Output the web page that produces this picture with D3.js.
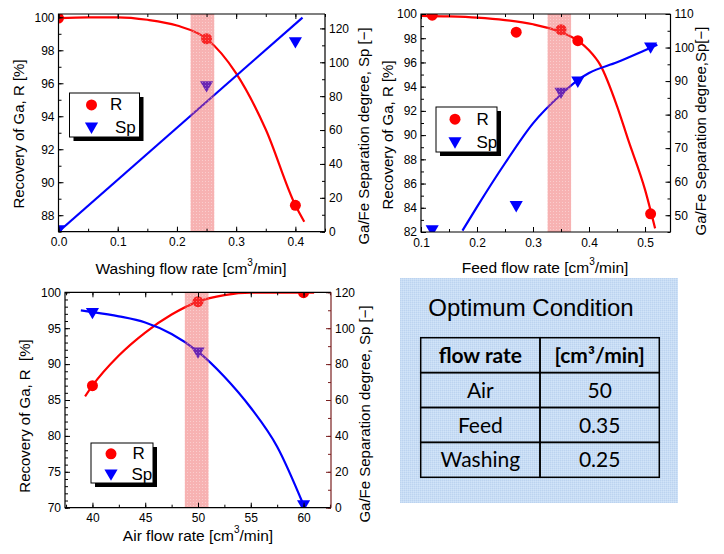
<!DOCTYPE html>
<html><head><meta charset="utf-8">
<script src="https://cdn.jsdelivr.net/npm/d3@7"></script>
<style>body{margin:0;background:#fff} svg{display:block}</style>
</head><body><svg id="c" width="724" height="554"></svg>
<script>
// ---------- DATA ----------
// Washing chart
const washX = [0, 0.25, 0.40];
const washR = [99.95, 98.7, 88.6];
const washSp = [1, 86, 112];
const washRFitX = [0, 0.05, 0.10, 0.15, 0.20, 0.25, 0.30, 0.35, 0.40, 0.415];
const washRFitY = [99.95, 100.0, 100.0, 99.85, 99.5, 98.7, 96.6, 93.2, 88.6, 87.6];
const washSpFitX = [0, 0.412];
const washSpFitY = [0, 126.4];
const washBand = [0.223, 0.263];
const washXTicks = [0.0, 0.1, 0.2, 0.3, 0.4];
const washRTicks = [88, 90, 92, 94, 96, 98, 100];
const washSpTicks = [0, 20, 40, 60, 80, 100, 120];

// Feed chart
const feedX = [0.12, 0.27, 0.35, 0.38, 0.51];
const feedR = [99.9, 98.5, 98.7, 97.8, 83.5];
const feedSp = [45.6, 52.8, 86.6, 89.9, 100.1];
const feedRFitX = [0.10, 0.15, 0.20, 0.25, 0.30, 0.35, 0.38, 0.40, 0.42, 0.45, 0.47, 0.50, 0.518];
const feedRFitY = [99.85, 99.8, 99.7, 99.5, 99.15, 98.5, 97.8, 97.0, 95.8, 92.4, 89.6, 85.5, 82.3];
const feedSpFitX = [0.174, 0.20, 0.25, 0.30, 0.35, 0.38, 0.40, 0.45, 0.50, 0.522];
const feedSpFitY = [45.4, 52.5, 65.5, 77.4, 86.0, 90.3, 92.4, 95.6, 99.2, 100.8];
const feedBand = [0.326, 0.368];
const feedXTicks = [0.1, 0.2, 0.3, 0.4, 0.5];
const feedRTicks = [82, 84, 86, 88, 90, 92, 94, 96, 98, 100];
const feedSpTicks = [50, 60, 70, 80, 90, 100, 110];

// Air chart
const airX = [40, 50, 60];
const airR = [87.0, 98.7, 99.95];
const airSp = [108.6, 86.6, 1.5];
const airRFitX = [39.3, 40, 42.5, 45, 47.5, 50, 52.5, 55, 60, 61];
const airRFitY = [85.5, 87.0, 91.2, 94.4, 96.9, 98.7, 99.6, 99.95, 99.95, 99.95];
const airSpFitX = [38.9, 40, 42.5, 45, 47.5, 50, 52.5, 55, 57.5, 60];
const airSpFitY = [109.9, 109.0, 106.6, 103.2, 96.8, 87.0, 73.0, 55.7, 34.0, 1.5];
const airBand = [48.75, 51.0];
const airXTicks = [40, 45, 50, 55, 60];
const airRTicks = [70, 75, 80, 85, 90, 95, 100];
const airSpTicks = [0, 20, 40, 60, 80, 100, 120];

// Table
const tableTitle = "Optimum Condition";
const tableHeader = ["flow rate", "[cm³/min]"];
const tableRows = [["Air", "50"], ["Feed", "0.35"], ["Washing", "0.25"]];

// ---------- DRAW ----------
const svg = d3.select("#c");
const defs = svg.append("defs");
const FONT = "'Liberation Sans', Arial, sans-serif";

// band pattern
const bp = defs.append("pattern").attr("id", "bandPat").attr("patternUnits", "userSpaceOnUse")
  .attr("width", 3).attr("height", 3);
bp.append("rect").attr("width", 3).attr("height", 3).attr("fill", "rgba(238,85,85,0.45)");
bp.append("rect").attr("x", 1).attr("y", 1).attr("width", 1).attr("height", 1).attr("fill", "rgba(255,255,255,0.35)");

// table pattern
const tp = defs.append("pattern").attr("id", "tabPat").attr("patternUnits", "userSpaceOnUse")
  .attr("width", 2).attr("height", 2);
tp.append("rect").attr("width", 2).attr("height", 2).attr("fill", "#c8ddf5");
tp.append("rect").attr("width", 1).attr("height", 1).attr("fill", "#bcd3ef");
tp.append("rect").attr("x", 1).attr("y", 1).attr("width", 1).attr("height", 1).attr("fill", "#d2e4f8");

function drawChart(id, o) {
  const g = svg.append("g");
  const x = d3.scaleLinear().domain(o.xDomain).range([o.left, o.right]);
  const yL = d3.scaleLinear().domain(o.yLDomain).range([o.bottom, o.top]);
  const yR = d3.scaleLinear().domain(o.yRDomain).range([o.bottom, o.top]);

  defs.append("clipPath").attr("id", "clip" + id).append("rect")
    .attr("x", o.left).attr("y", o.top).attr("width", o.right - o.left).attr("height", o.bottom - o.top);

  const plot = g.append("g").attr("clip-path", `url(#clip${id})`);

  const lineR = d3.line().x(d => x(d[0])).y(d => yL(d[1])).curve(d3.curveMonotoneX);
  const lineS = d3.line().x(d => x(d[0])).y(d => yR(d[1])).curve(d3.curveMonotoneX);

  plot.append("path").datum(d3.zip(o.rFitX, o.rFitY)).attr("d", lineR)
    .attr("fill", "none").attr("stroke", "#ff0000").attr("stroke-width", 2.2);
  plot.append("path").datum(d3.zip(o.spFitX, o.spFitY)).attr("d", lineS)
    .attr("fill", "none").attr("stroke", "#0000ff").attr("stroke-width", 2.2);

  const tri = d3.symbol().type(d3.symbolTriangle).size(75);
  plot.selectAll(".sp").data(d3.zip(o.ptsX, o.Sp)).join("path")
    .attr("d", tri).attr("fill", "#0000ff")
    .attr("transform", d => `translate(${x(d[0])},${yR(d[1]) - 1}) rotate(180)`);
  plot.selectAll(".r").data(d3.zip(o.ptsX, o.R)).join("circle")
    .attr("cx", d => x(d[0])).attr("cy", d => yL(d[1])).attr("r", 5.5).attr("fill", "#ff0000");

  // band on top
  plot.append("rect").attr("x", x(o.band[0])).attr("width", x(o.band[1]) - x(o.band[0]))
    .attr("y", o.top).attr("height", o.bottom - o.top).attr("fill", "url(#bandPat)");

  // axes
  const style = sel => {
    sel.select(".domain").remove();
    sel.selectAll("text").attr("font-family", FONT).attr("font-size", 12).attr("fill", "#000");
  };
  g.append("g").attr("transform", `translate(0,${o.bottom})`)
    .call(d3.axisBottom(x).tickValues(o.xTicks).tickFormat(o.xFmt).tickSizeInner(-5).tickSizeOuter(0).tickPadding(6)).call(style);
  g.append("g").attr("transform", `translate(0,${o.bottom})`)
    .call(d3.axisBottom(x).tickValues(o.xMinorVals).tickFormat("").tickSizeInner(-3).tickSizeOuter(0)).call(style);
  g.append("g").attr("transform", `translate(0,${o.top})`)
    .call(d3.axisTop(x).tickValues(o.xTicks).tickFormat("").tickSizeInner(-5).tickSizeOuter(0)).call(style);
  g.append("g").attr("transform", `translate(0,${o.top})`)
    .call(d3.axisTop(x).tickValues(o.xMinorVals).tickFormat("").tickSizeInner(-3).tickSizeOuter(0)).call(style);

  g.append("g").attr("transform", `translate(${o.left},0)`)
    .call(d3.axisLeft(yL).tickValues(o.yLTicks).tickFormat(d3.format("d")).tickSizeInner(-5).tickSizeOuter(0).tickPadding(4)).call(style);
  g.append("g").attr("transform", `translate(${o.left},0)`)
    .call(d3.axisLeft(yL).tickValues(o.yLMinorVals).tickFormat("").tickSizeInner(-3).tickSizeOuter(0)).call(style);

  const rc = o.rightColor;
  const ra = g.append("g").attr("transform", `translate(${o.right},0)`)
    .call(d3.axisRight(yR).tickValues(o.yRTicks).tickFormat(d3.format("d")).tickSizeInner(-5).tickSizeOuter(0).tickPadding(4)).call(style);
  const rm = g.append("g").attr("transform", `translate(${o.right},0)`)
    .call(d3.axisRight(yR).tickValues(o.yRMinorVals).tickFormat("").tickSizeInner(-3).tickSizeOuter(0)).call(style);
  ra.selectAll("line").attr("stroke", rc);
  rm.selectAll("line").attr("stroke", rc);
  g.selectAll(".tick line").attr("stroke-width", 1);

  // frame
  g.append("path").attr("d", `M${o.right},${o.top}H${o.left}V${o.bottom}H${o.right}`)
    .attr("fill", "none").attr("stroke", "#000").attr("stroke-width", 1.2);
  g.append("line").attr("x1", o.right).attr("x2", o.right).attr("y1", o.top).attr("y2", o.bottom)
    .attr("stroke", rc).attr("stroke-width", 1.2);

  // legend
  const L = o.legend;
  g.append("rect").attr("x", L.x + 4).attr("y", L.y + 4).attr("width", L.w).attr("height", L.h).attr("fill", "#000");
  g.append("rect").attr("x", L.x).attr("y", L.y).attr("width", L.w).attr("height", L.h)
    .attr("fill", "#fff").attr("stroke", "#000").attr("stroke-width", 1);
  g.append("circle").attr("cx", L.x + L.mx).attr("cy", L.y + L.h * 0.27).attr("r", 5.5).attr("fill", "#ff0000");
  g.append("path").attr("d", tri).attr("fill", "#0000ff")
    .attr("transform", `translate(${L.x + L.mx},${L.y + L.h * 0.78 - 1}) rotate(180)`);
  g.append("text").attr("x", L.x + L.tx).attr("y", L.y + L.h * 0.27).attr("dominant-baseline", "central")
    .attr("font-family", FONT).attr("font-size", 17).text("R");
  g.append("text").attr("x", L.x + L.tx2).attr("y", L.y + L.h * 0.78).attr("dominant-baseline", "central")
    .attr("font-family", FONT).attr("font-size", 17).text("Sp");

  // axis titles
  const xl = g.append("text").attr("x", o.xLabelPos[0]).attr("y", o.xLabelPos[1])
    .attr("text-anchor", "middle").attr("dominant-baseline", "central")
    .attr("font-family", FONT).attr("font-size", 15.5);
  xl.append("tspan").text(o.xLabel + " [cm");
  xl.append("tspan").attr("dy", -6).attr("font-size", 10).text("3");
  xl.append("tspan").attr("dy", 6).text("/min]");

  g.append("text").attr("transform", `translate(${o.yLLabelPos[0]},${o.yLLabelPos[1]}) rotate(-90)`)
    .attr("text-anchor", "middle").attr("dominant-baseline", "central")
    .attr("font-family", FONT).attr("font-size", 15).attr("xml:space", "preserve").text(o.yLLabel);
  g.append("text").attr("transform", `translate(${o.yRLabelPos[0]},${o.yRLabelPos[1]}) rotate(-90)`)
    .attr("text-anchor", "middle").attr("dominant-baseline", "central")
    .attr("font-family", FONT).attr("font-size", 15).attr("xml:space", "preserve").text(o.yRLabel);
}

const rng = (a, b, s) => d3.range(Math.round(a / s), Math.round(b / s) + 1).map(k => +(k * s).toFixed(6));

drawChart("wash", {
  left: 58.5, right: 325, top: 14, bottom: 231.7,
  xDomain: [0, 0.45], yLDomain: [87, 100.2], yRDomain: [0, 128.5],
  xTicks: washXTicks, xMinorVals: rng(0, 0.45, 0.05), xFmt: d3.format(".1f"),
  yLTicks: washRTicks, yLMinorVals: rng(87, 100, 1),
  yRTicks: washSpTicks, yRMinorVals: rng(0, 120, 10),
  ptsX: washX, R: washR, Sp: washSp,
  rFitX: washRFitX, rFitY: washRFitY, spFitX: washSpFitX, spFitY: washSpFitY,
  band: washBand, rightColor: "#000",
  legend: { x: 69.5, y: 93, w: 70, h: 44, mx: 22, tx: 40.5, tx2: 45.5 },
  xLabel: "Washing flow rate", xLabelPos: [191, 268],
  yLLabel: "Recovery of Ga, R [%]", yLLabelPos: [18, 134],
  yRLabel: "Ga/Fe Separation degree, Sp [−]", yRLabelPos: [363, 136]
});

drawChart("feed", {
  left: 421, right: 670.5, top: 14, bottom: 232,
  xDomain: [0.1, 0.5455], yLDomain: [82, 100], yRDomain: [45, 110],
  xTicks: feedXTicks, xMinorVals: rng(0.1, 0.5, 0.05), xFmt: d3.format(".1f"),
  yLTicks: feedRTicks, yLMinorVals: rng(82, 100, 1),
  yRTicks: feedSpTicks, yRMinorVals: rng(45, 110, 5),
  ptsX: feedX, R: feedR, Sp: feedSp,
  rFitX: feedRFitX, rFitY: feedRFitY, spFitX: feedSpFitX, spFitY: feedSpFitY,
  band: feedBand, rightColor: "#000",
  legend: { x: 436, y: 107, w: 61, h: 45, mx: 19, tx: 40.5, tx2: 40.5 },
  xLabel: "Feed flow rate", xLabelPos: [545, 267],
  yLLabel: "Recovery of Ga, R [%]", yLLabelPos: [387, 135],
  yRLabel: "Ga/Fe Separation degree,Sp[−]", yRLabelPos: [700, 131]
});

drawChart("air", {
  left: 65, right: 331, top: 292.3, bottom: 507.7,
  xDomain: [37.4, 62.6], yLDomain: [70, 100], yRDomain: [0, 120],
  xTicks: airXTicks, xMinorVals: rng(37.5, 62.5, 2.5), xFmt: d3.format("d"),
  yLTicks: airRTicks, yLMinorVals: rng(70, 100, 1),
  yRTicks: airSpTicks, yRMinorVals: rng(0, 120, 10),
  ptsX: airX, R: airR, Sp: airSp,
  rFitX: airRFitX, rFitY: airRFitY, spFitX: airSpFitX, spFitY: airSpFitY,
  band: airBand, rightColor: "#7a1f1f",
  legend: { x: 91, y: 443, w: 62, h: 40, mx: 20, tx: 41.5, tx2: 40.5 },
  xLabel: "Air flow rate", xLabelPos: [198, 535],
  yLLabel: "Recovery of Ga, R  [%]", yLLabelPos: [24, 416],
  yRLabel: "Ga/Fe Separation degree, Sp [−]", yRLabelPos: [364, 414]
});

// ---------- TABLE PANEL ----------
const TF = "Lato, 'Open Sans', sans-serif";
const tg = svg.append("g");
tg.append("rect").attr("x", 400).attr("y", 278).attr("width", 278).attr("height", 225).attr("fill", "url(#tabPat)");
tg.append("text").attr("x", 531).attr("y", 315.5).attr("text-anchor", "middle")
  .attr("font-family", FONT).attr("font-size", 24).text(tableTitle);

const colX = d3.scaleBand().domain([0, 1]).range([420.7, 659.3]).paddingInner(0);
const rowY = d3.scaleBand().domain(d3.range(tableRows.length + 1)).range([337.7, 477.3]);
const allRows = [tableHeader].concat(tableRows);
allRows.forEach((row, ri) => {
  row.forEach((cell, ci) => {
    tg.append("rect").attr("x", colX(ci)).attr("y", rowY(ri)).attr("width", colX.bandwidth()).attr("height", rowY.bandwidth())
      .attr("fill", "none").attr("stroke", "#000").attr("stroke-width", 1.5);
    tg.append("text").attr("x", colX(ci) + colX.bandwidth() / 2).attr("y", rowY(ri) + 25)
      .attr("text-anchor", "middle").attr("font-family", TF).attr("font-size", 21)
      .attr("font-weight", ri === 0 ? "bold" : "normal").text(cell);
  });
});
</script></body></html>
